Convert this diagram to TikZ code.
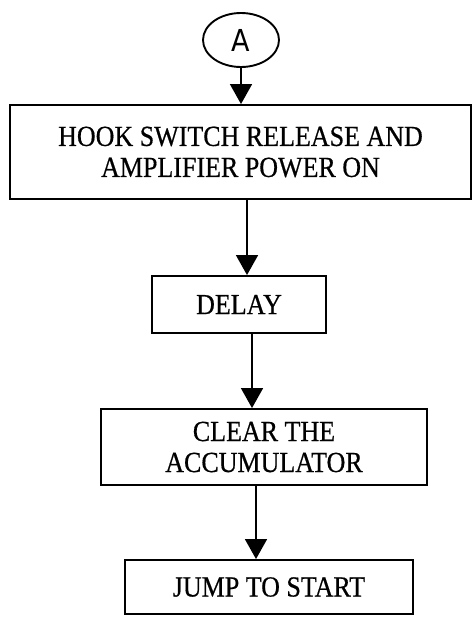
\documentclass[tikz,border=0pt]{standalone}
\usepackage{graphicx}
\usepackage{fontspec}
\setmainfont{Liberation Serif}[FakeBold=0.6]
\newfontfamily\handfont{DejaVu Sans}
\newcommand{\tallline}[1]{\scalebox{1}[1.12]{#1}}
\usetikzlibrary{shapes.geometric,arrows.meta,calc}
\begin{document}
\begin{tikzpicture}[x=1pt,y=-1pt,
  flowbox/.style={draw,line width=1.9pt,rectangle,inner sep=0pt,align=center,
    font=\fontsize{26}{31}\selectfont},
  conn/.style={line width=1.6pt,-{Triangle[width=22pt,length=20pt]}}]
\useasboundingbox (0,0) rectangle (473,619);
\node[draw,line width=1.9pt,ellipse,minimum width=76pt,minimum height=54pt,inner sep=0pt,
  font=\handfont\fontsize{27}{30}\selectfont] (a) at (241,40) {\tallline{A}};
\node[flowbox,minimum width=461pt,minimum height=94pt] (b1) at (240.5,152) {\tallline{HOOK SWITCH RELEASE AND}\\\tallline{AMPLIFIER POWER ON}};
\node[flowbox,minimum width=174pt,minimum height=57pt] (b2) at (239,304.5) {\tallline{DELAY}};
\node[flowbox,minimum width=326pt,minimum height=76pt] (b3) at (264,447) {\tallline{CLEAR THE}\\\tallline{ACCUMULATOR}};
\node[flowbox,minimum width=288pt,minimum height=54pt] (b4) at (269,587) {\tallline{JUMP TO START}};
\coordinate (x1) at (247,0);
\coordinate (x2) at (252,0);
\coordinate (x3) at (256,0);
\draw[conn] (a.south) -- (a.south |- b1.north);
\draw[conn] (b1.south -| x1) -- (b2.north -| x1);
\draw[conn] (b2.south -| x2) -- (b3.north -| x2);
\draw[conn] (b3.south -| x3) -- (b4.north -| x3);
\end{tikzpicture}
\end{document}
